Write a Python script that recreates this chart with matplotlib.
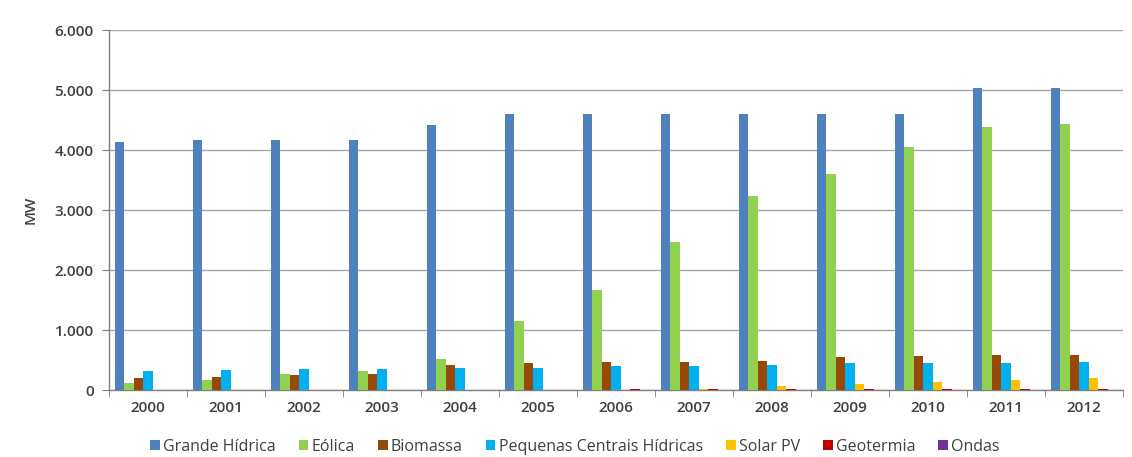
"""Installed capacity by renewable source, 2000-2012."""
import matplotlib
matplotlib.use("Agg")
import matplotlib.pyplot as plt
from matplotlib.ticker import FuncFormatter, FixedLocator
import numpy as np

years = ['2000', '2001', '2002', '2003', '2004', '2005', '2006',
         '2007', '2008', '2009', '2010', '2011', '2012']

grande_hidrica = [4140, 4165, 4170, 4170, 4410, 4600, 4600, 4600, 4600, 4600, 4600, 5035, 5035]
eolica = [110, 160, 270, 320, 510, 1150, 1670, 2470, 3230, 3600, 4050, 4380, 4430]
biomassa = [200, 215, 250, 260, 415, 455, 470, 470, 480, 555, 575, 585, 585]
pequenas_hidricas = [320, 340, 350, 350, 360, 365, 405, 405, 425, 445, 450, 455, 465]
solar_pv = [1, 1, 2, 2, 3, 3, 5, 15, 60, 100, 135, 165, 205]
geotermia = [0, 0, 0, 0, 0, 0, 25, 25, 25, 25, 25, 25, 25]
ondas = [0, 0, 0, 0, 0, 0, 0, 0, 4, 4, 4, 4, 4]

series = [
    ('Grande Hídrica', grande_hidrica, '#4F81BD'),
    ('Eólica', eolica, '#92D050'),
    ('Biomassa', biomassa, '#984807'),
    ('Pequenas Centrais Hídricas', pequenas_hidricas, '#00B0F0'),
    ('Solar PV', solar_pv, '#FFC000'),
    ('Geotermia', geotermia, '#C00000'),
    ('Ondas', ondas, '#7030A0'),
]

plt.rcParams['font.family'] = ['Open Sans', 'DejaVu Sans']

fig = plt.figure(figsize=(11.32, 4.57), dpi=100)
ax = fig.add_axes([109 / 1132, 1 - 390 / 457, 1014 / 1132, 360 / 457])

x = np.arange(len(years))
w = 0.122
for i, (name, vals, col) in enumerate(series):
    offs = (i - 3) * w
    ax.bar(x + offs, vals, width=w, color=col, label=name, zorder=3)

ax.set_xlim(-0.5, len(years) - 0.5)
ax.set_ylim(0, 6000)
ax.set_yticks(np.arange(0, 6001, 1000))
ax.yaxis.set_major_formatter(FuncFormatter(lambda v, p: f"{int(v):,}".replace(',', '.')))
ax.grid(axis='y', color='#A6A6A6', linewidth=1.0, zorder=0)

ax.set_xticks(x)
ax.set_xticklabels(years)
ax.xaxis.set_minor_locator(FixedLocator(np.arange(-0.5, len(years), 1)))
ax.tick_params(axis='x', which='major', length=0, pad=8)
ax.tick_params(axis='x', which='minor', length=5, color='#808080')
ax.tick_params(axis='y', length=5, color='#808080', pad=6)
ax.tick_params(labelsize=11, labelcolor='#404040')
for lab in ax.get_xticklabels() + ax.get_yticklabels():
    lab.set_fontweight('semibold')

for s in ['top', 'right']:
    ax.spines[s].set_visible(False)
for s in ['left', 'bottom']:
    ax.spines[s].set_color('#808080')
    ax.spines[s].set_linewidth(1.0)

ax.set_ylabel('MW', fontsize=11, color='#404040', fontweight='semibold', labelpad=12)

fig.legend(loc='center', bbox_to_anchor=(575 / 1132, 1 - 447 / 457), ncol=7,
           frameon=False, fontsize=11.5, handlelength=0.6, handleheight=0.6,
           handletextpad=0.2, columnspacing=1.45, labelcolor='#404040')

fig.savefig('out.png', dpi=100, facecolor='white')
